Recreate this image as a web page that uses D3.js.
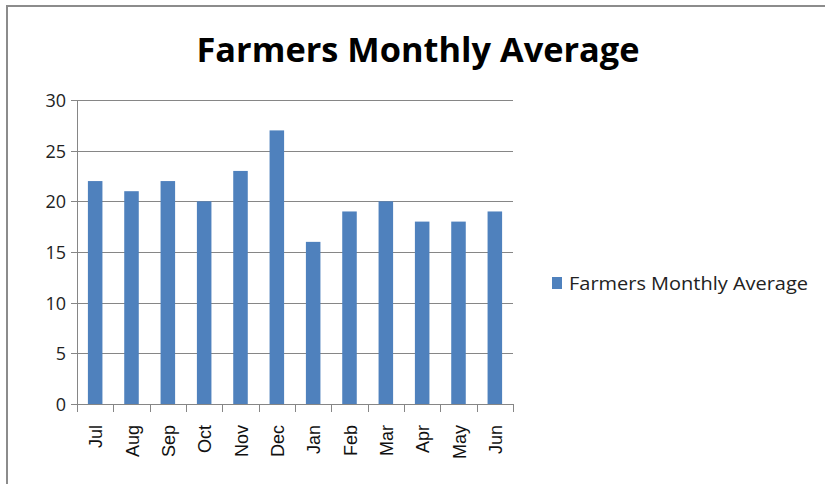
<!DOCTYPE html>
<html>
<head>
<meta charset="utf-8">
<script src="https://cdn.jsdelivr.net/npm/d3@7"></script>
<style>
  body { margin: 0; background: #fff; }
  svg { display: block; }
</style>
</head>
<body>
<div id="chart"></div>
<script>
// chart data
var months = ["Jul", "Aug", "Sep", "Oct", "Nov", "Dec", "Jan", "Feb", "Mar", "Apr", "May", "Jun"];
var averages = [22, 21, 22, 20, 23, 27, 16, 19, 20, 18, 18, 19];
var yTicks = [0, 5, 10, 15, 20, 25, 30];
var seriesName = "Farmers Monthly Average";

var width = 825, height = 484;
var plot = {left: 77, right: 513, top: 100, bottom: 404};

var svg = d3.select("#chart").append("svg")
    .attr("width", width)
    .attr("height", height);

// outer frame (only top and left visible)
svg.append("path")
    .attr("d", "M7," + height + "V6H" + width)
    .attr("fill", "none")
    .attr("stroke", "#8c8c8c")
    .attr("stroke-width", 2);

// title
svg.append("text")
    .attr("x", 418)
    .attr("y", 62)
    .attr("text-anchor", "middle")
    .attr("textLength", 443)
    .attr("lengthAdjust", "spacingAndGlyphs")
    .style("font-family", "'Liberation Sans Narrow', 'Open Sans', sans-serif")
    .style("font-weight", "bold")
    .style("font-size", "34px")
    .attr("fill", "#000")
    .text(seriesName);

var x = d3.scaleBand()
    .domain(months)
    .range([plot.left, plot.right])
    .paddingInner(0.6)
    .paddingOuter(0.3);

var y = d3.scaleLinear()
    .domain([0, 30])
    .range([plot.bottom, plot.top]);

// gridlines
svg.append("g")
    .selectAll("line")
    .data(yTicks)
    .enter()
    .append("line")
    .attr("x1", plot.left - 6)
    .attr("x2", plot.right)
    .attr("y1", function(d) { return Math.round(y(d)) + 0.5; })
    .attr("y2", function(d) { return Math.round(y(d)) + 0.5; })
    .attr("stroke", "#868686")
    .attr("stroke-width", 1);

// y axis line
svg.append("line")
    .attr("x1", plot.left + 0.5).attr("x2", plot.left + 0.5)
    .attr("y1", plot.top).attr("y2", plot.bottom)
    .attr("stroke", "#868686");

// y tick labels
svg.append("g")
    .selectAll("text")
    .data(yTicks)
    .enter()
    .append("text")
    .attr("x", 66)
    .attr("y", function(d) { return y(d) + 7; })
    .attr("text-anchor", "end")
    .style("font-family", "'Open Sans', sans-serif")
    .style("font-size", "18px")
    .attr("fill", "#222")
    .text(function(d) { return d; });

// x tick marks at category boundaries
var boundaries = d3.range(months.length + 1).map(function(i) { return plot.left + i * (plot.right - plot.left) / months.length; });
svg.append("g")
    .selectAll("line")
    .data(boundaries)
    .enter()
    .append("line")
    .attr("x1", function(d) { return Math.round(d) + 0.5; })
    .attr("x2", function(d) { return Math.round(d) + 0.5; })
    .attr("y1", plot.bottom)
    .attr("y2", plot.bottom + 8)
    .attr("stroke", "#868686");

// bars
svg.append("g")
    .selectAll("rect")
    .data(averages)
    .enter()
    .append("rect")
    .attr("x", function(d, i) { return x(months[i]); })
    .attr("width", x.bandwidth())
    .attr("y", function(d) { return y(d); })
    .attr("height", function(d) { return y(0) - y(d); })
    .attr("fill", "#4f81bd");

// x labels, rotated
svg.append("g")
    .selectAll("text")
    .data(months)
    .enter()
    .append("text")
    .attr("transform", function(d) {
        return "translate(" + (x(d) + x.bandwidth() / 2 + 7) + "," + 425 + ") rotate(-90)";
    })
    .attr("text-anchor", "end")
    .style("font-family", "'Liberation Sans', Arial, sans-serif")
    .style("font-size", "18px")
    .attr("fill", "#111")
    .text(function(d) { return d; });

// legend
svg.append("rect")
    .attr("x", 552)
    .attr("y", 277)
    .attr("width", 10)
    .attr("height", 12)
    .attr("fill", "#4f81bd");

svg.append("text")
    .attr("x", 569)
    .attr("y", 290)
    .attr("textLength", 239)
    .attr("lengthAdjust", "spacingAndGlyphs")
    .style("font-family", "'Open Sans', sans-serif")
    .style("font-size", "18px")
    .attr("fill", "#222")
    .text(seriesName);
</script>
</body>
</html>
